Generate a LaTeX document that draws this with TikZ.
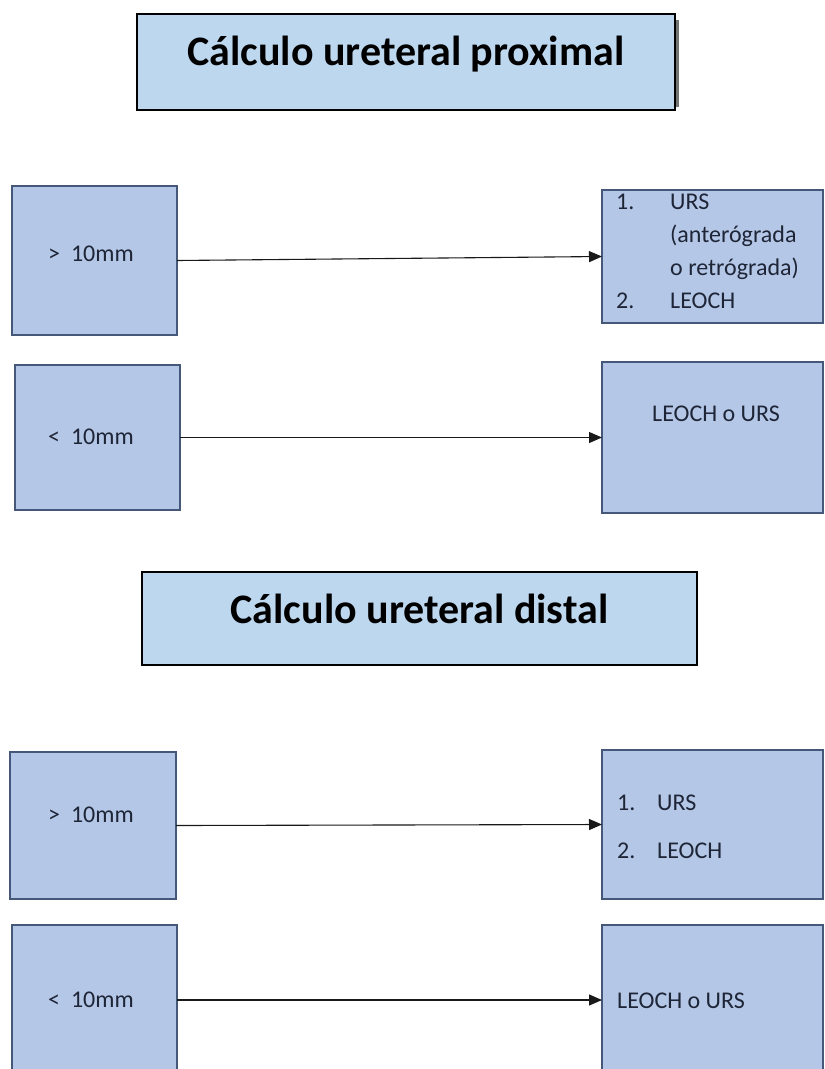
\documentclass[tikz,border=0pt]{standalone}
\usepackage{fontspec}
\setmainfont{Carlito}
\usetikzlibrary{arrows.meta}

\definecolor{titlefill}{HTML}{BDD7EE}
\definecolor{boxfill}{HTML}{B4C7E7}
\definecolor{boxline}{HTML}{46587A}
\definecolor{labeltext}{HTML}{1E2536}

\tikzset{
  titlebox/.style={draw=black, line width=1.6pt, fill=titlefill,
    inner sep=0pt, outer sep=0pt},
  titletext/.style={anchor=base, inner sep=0pt,
    font=\fontsize{42}{50}\selectfont\bfseries},
  optbox/.style={draw=boxline, line width=1.2pt, fill=boxfill,
    inner sep=0pt, outer sep=0pt},
  lbl/.style={anchor=base west, inner sep=0pt, text=labeltext,
    font=\fontsize{24}{29}\selectfont},
  arr/.style={line width=1.1pt, draw=black!90,
    -{Triangle[length=13pt,width=11pt]}},
}

\begin{document}
\begin{tikzpicture}[x=1pt, y=-1pt]
\useasboundingbox (0,0) rectangle (825,1069);
\fill[white] (0,0) rectangle (825,1069);

% ---------- Proximal ureteral stone ----------
\fill[black!55] (675,20) rectangle (678.5,107);
\node[titlebox, minimum width=538pt, minimum height=96pt] (t1) at (406,62) {};
\node[titletext] (t1txt) at (406,65) {Cálculo ureteral proximal};

\node[optbox, minimum width=165pt, minimum height=149pt] (l1) at (94.5,260.5) {};
\node[lbl] (l1txt) at (48,261) {>\ \ 10mm};
\node[optbox, minimum width=221pt, minimum height=133pt] (r1) at (712.5,256.5) {};
\node[lbl] (r1a) at (616,209) {1.};
\node[lbl] (r1b) at (670,209) {URS};
\node[lbl] (r1c) at (670,242) {(anterógrada};
\node[lbl] (r1d) at (670,275) {o retrógrada)};
\node[lbl] (r1e) at (616,308) {2.};
\node[lbl] (r1f) at (670,308) {LEOCH};
\draw[arr] (l1.east) -- (r1.west);

\node[optbox, minimum width=165pt, minimum height=145pt] (l2) at (97.5,437.5) {};
\node[lbl] (l2txt) at (48,444) {<\ \ 10mm};
\node[optbox, minimum width=221pt, minimum height=151pt] (r2) at (712.5,437.5) {};
\node[lbl] (r2txt) at (652,421) {LEOCH o URS};
\draw[arr] (l2.east) -- (r2.west);

% ---------- Distal ureteral stone ----------
\node[titlebox, minimum width=555pt, minimum height=93pt] (t2) at (419.5,618.5) {};
\node[titletext] (t2txt) at (419.5,623) {Cálculo ureteral distal};

\node[optbox, minimum width=166pt, minimum height=147pt] (l3) at (93,825.5) {};
\node[lbl] (l3txt) at (48,822) {>\ \ 10mm};
\node[optbox, minimum width=221pt, minimum height=149pt] (r3) at (712.5,824.5) {};
\node[lbl] (r3a) at (617,810) {1.};
\node[lbl] (r3b) at (657,810) {URS};
\node[lbl] (r3c) at (617,858) {2.};
\node[lbl] (r3d) at (657,858) {LEOCH};
\draw[arr] (l3.east) -- (r3.west);

\node[optbox, minimum width=165pt, minimum height=150pt] (l4) at (94.5,1000) {};
\node[lbl] (l4txt) at (48,1007) {<\ \ 10mm};
\node[optbox, minimum width=221pt, minimum height=150pt] (r4) at (712.5,1000) {};
\node[lbl] (r4txt) at (617,1008) {LEOCH o URS};
\draw[arr] (l4.east) -- (r4.west);
\end{tikzpicture}
\end{document}
